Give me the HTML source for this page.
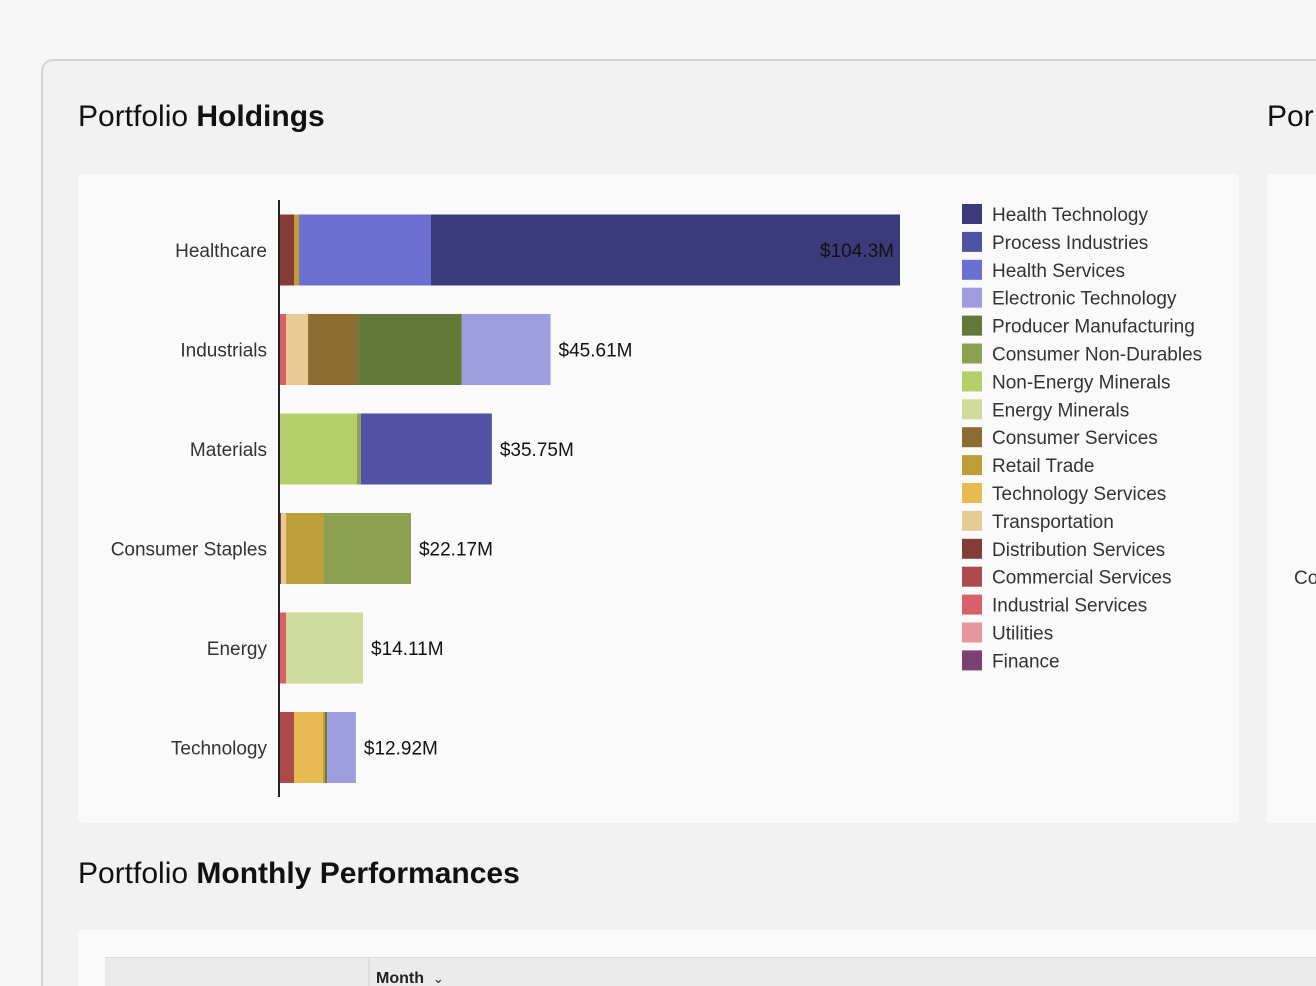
<!DOCTYPE html>
<html><head><meta charset="utf-8">
<style>
html,body{margin:0;width:1316px;height:986px;overflow:hidden}
body{background:#f7f7f7;font-family:"Liberation Sans",sans-serif;position:relative}
.clip{position:absolute;left:0;top:0;width:1316px;height:986px;overflow:hidden}
.outer{position:absolute;left:41px;top:59px;width:1275px;height:927px;border:2px solid #d4d4d4;border-right:none;border-bottom:none;border-radius:12px 0 0 0;background:#f2f2f2;box-sizing:border-box}
.title{position:absolute;font-size:30px;color:#111;white-space:nowrap}
.title b{font-weight:600}
.panel{position:absolute;background:#fafafa;border-radius:4px}
</style></head><body>
<div class="clip">
<div class="outer"></div>
<div class="title" style="left:78px;top:100px">Portfolio <b>Holdings</b></div>
<div class="title" style="left:1267px;top:100px">Por</div>
<div class="panel" style="left:78px;top:174px;width:1161px;height:649px"></div>
<div class="panel" style="left:1267px;top:174px;width:49px;height:649px;border-radius:4px 0 0 4px"></div>
<div style="position:absolute;left:1294px;top:568px;font-size:19px;color:#333">Co</div>
<div class="title" style="left:78px;top:857px">Portfolio <b>Monthly Performances</b></div>
<div class="panel" style="left:78px;top:930px;width:1238px;height:56px;border-radius:4px 0 0 0"></div>
<div style="position:absolute;left:105px;top:957px;width:1211px;height:29px;background:#ebebeb;border-top:1px solid #ddd"></div>
<div style="position:absolute;left:368px;top:957px;width:2px;height:29px;background:#ddd"></div>
<div style="position:absolute;left:376px;top:970px;font-size:16px;font-weight:bold;color:#222">Month &nbsp;<span style="font-weight:normal;font-size:13px">⌄</span></div>
<svg id="chart" width="1316" height="986" style="position:absolute;left:0;top:0"></svg>
</div>
<script>
const categories=["Healthcare","Industrials","Materials","Consumer Staples","Energy","Technology"];
const totalLabels=["$104.3M","$45.61M","$35.75M","$22.17M","$14.11M","$12.92M"];
const sectors=["Health Technology","Process Industries","Health Services","Electronic Technology","Producer Manufacturing","Consumer Non-Durables","Non-Energy Minerals","Energy Minerals","Consumer Services","Retail Trade","Technology Services","Transportation","Distribution Services","Commercial Services","Industrial Services","Utilities","Finance"];
const colors=["#3b3a7a","#5052a3","#6b6fd0","#9e9edf","#637939","#8ca252","#b5cf6b","#cedb9c","#8c6d31","#bd9e39","#e7ba52","#e7cb94","#843c39","#ad494a","#d6616b","#e7969c","#7b4173"];
const segHealthcare=[["Distribution Services",2.52],["Retail Trade",0.84],["Health Services",22.17],["Health Technology",78.77]];
const segIndustrials=[["Industrial Services",1.18],["Transportation",3.7],["Consumer Services",8.4],["Producer Manufacturing",17.43],["Electronic Technology",14.9]];
const segMaterials=[["Non-Energy Minerals",13.1],["Consumer Non-Durables",0.65],["Process Industries",22.0]];
const segStaples=[["Distribution Services",0.34],["Transportation",0.84],["Retail Trade",6.38],["Consumer Non-Durables",14.61]];
const segEnergy=[["Industrial Services",1.18],["Energy Minerals",12.93]];
const segTech=[["Commercial Services",2.52],["Technology Services",4.87],["Retail Trade",0.34],["Producer Manufacturing",0.34],["Electronic Technology",4.85]];
const segments=[segHealthcare,segIndustrials,segMaterials,segStaples,segEnergy,segTech];
const NS="http://www.w3.org/2000/svg",svg=document.getElementById('chart');
const x0=279,xMax=104.3,xW=621;
const x=v=>x0+v/xMax*xW;
const y=i=>250+i*99.5;
const bh=71;
function mk(t,a){const e=document.createElementNS(NS,t);for(const k in a)e.setAttribute(k,a[k]);svg.appendChild(e);return e;}
categories.forEach((c,i)=>{
  let acc=0,yc=y(i);
  segments[i].forEach(([s,v])=>{
    const r=mk('rect',{x:x(acc),y:yc-bh/2,width:x(acc+v)-x(acc),height:bh,fill:colors[sectors.indexOf(s)]});
    
    
    acc+=v;
  });
  const lab=mk('text',{x:267,y:yc+7,'text-anchor':'end','font-size':19,fill:'#333','font-family':'Liberation Sans'});
  lab.textContent=c;
  
  
  const end=x(acc);
  const inside=end>800;
  const tl=mk('text',{x:inside?end-6:end+8,y:yc+7,'text-anchor':inside?'end':'start','font-size':19,fill:'#111','font-family':'Liberation Sans'});
  tl.textContent=totalLabels[i];
  
  
});
const ax=mk('line',{x1:x0,x2:x0,y1:200,y2:797,stroke:'#222','stroke-width':2});


sectors.forEach((s,i)=>{
  const yy=204+i*27.9;
  const sw=mk('rect',{x:962,y:yy,width:20,height:20,fill:colors[i]});
  
  
  const t=mk('text',{x:992,y:yy+17,'font-size':19,fill:'#333','font-family':'Liberation Sans'});
  t.textContent=s;
  
  
});
</script>
</body></html>
